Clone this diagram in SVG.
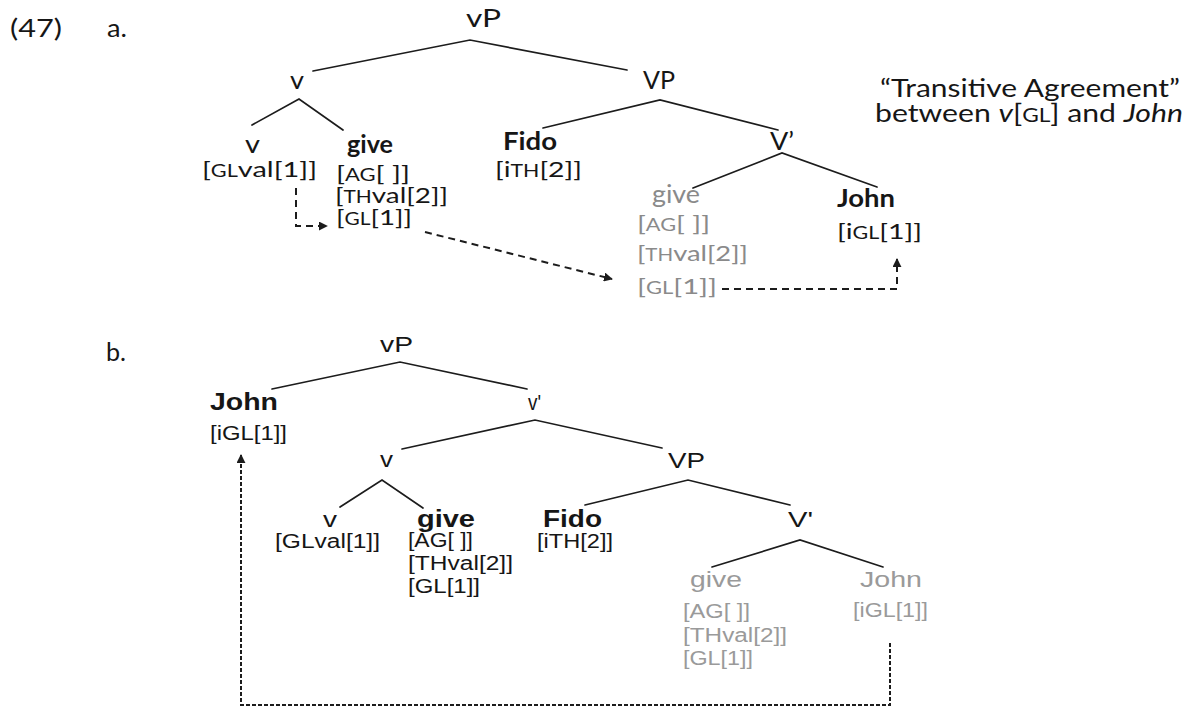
<svg xmlns="http://www.w3.org/2000/svg" width="1187" height="708" viewBox="0 0 1187 708">
  <style>
    .ca { font-family: "Lato", "Carlito", "Liberation Sans", sans-serif; fill: #161616; }
    .ar { font-family: "Liberation Sans", Arial, sans-serif; fill: #161616; }
    .lab { font-size: 25px; }
    .bold { font-weight: bold; }
    .feat { font-size: 22px; }
    .featb { font-size: 20px; }
    .gray { fill: #8a8a8a; }
    .grayb { fill: #9a9a9a; }
    .sc { font-size: 75%; }
    .branch { stroke: #1c1c1c; stroke-width: 1.7; fill: none; stroke-linecap: round; }
    .dash { stroke: #1c1c1c; stroke-width: 2; fill: none; stroke-dasharray: 7 5; }
    .dashb { stroke: #1c1c1c; stroke-width: 2; fill: none; stroke-dasharray: 4 2; }
  </style>
  <defs>
    <marker id="head" viewBox="0 0 10 10" refX="9" refY="5" markerWidth="9" markerHeight="9" markerUnits="userSpaceOnUse" orient="auto">
      <path d="M0,0 L10,5 L0,10 Z" fill="#1c1c1c"/>
    </marker>
  </defs>
  <rect width="1187" height="708" fill="#ffffff"/>

  <!-- example number and sub-labels -->
  <g id="labels">
    <text class="ca lab" x="10" y="37" textLength="52" lengthAdjust="spacingAndGlyphs">(47)</text>
    <text class="ca lab" x="107" y="37" textLength="20" lengthAdjust="spacingAndGlyphs">a.</text>
    <text class="ca lab" x="106" y="361" textLength="20" lengthAdjust="spacingAndGlyphs">b.</text>
  </g>

  <!-- tree (a) branches -->
  <g id="branches-a">
    <path class="branch" d="M313,71 L470,40 L627,70"/>
    <path class="branch" d="M252,125 L299,99 L343,130"/>
    <path class="branch" d="M543,128 L660,100 L778,130"/>
    <path class="branch" d="M693,188 L782,153 L877,187"/>
  </g>

  <!-- tree (a) nodes -->
  <g id="a-vP"><text class="ca lab" x="466" y="27" textLength="35" lengthAdjust="spacingAndGlyphs">vP</text></g>
  <g id="a-v1"><text class="ca lab" x="290" y="89" textLength="14" lengthAdjust="spacingAndGlyphs">v</text></g>
  <g id="a-VP"><text class="ca lab" x="643" y="89" textLength="32" lengthAdjust="spacingAndGlyphs">VP</text></g>
  <g id="a-v0">
    <text class="ca lab" x="245" y="153" textLength="15" lengthAdjust="spacingAndGlyphs">v</text>
    <text class="ca feat" x="202" y="177" textLength="115" lengthAdjust="spacingAndGlyphs">[<tspan class="sc">GL</tspan>val[1]]</text>
  </g>
  <g id="a-give">
    <text class="ca lab bold" x="347" y="153" textLength="46" lengthAdjust="spacingAndGlyphs">give</text>
    <text class="ca feat" x="336" y="181" textLength="74" lengthAdjust="spacingAndGlyphs">[<tspan class="sc">AG</tspan>[ ]]</text>
    <text class="ca feat" x="335" y="203" textLength="113" lengthAdjust="spacingAndGlyphs">[<tspan class="sc">TH</tspan>val[2]]</text>
    <text class="ca feat" x="336" y="225" textLength="76" lengthAdjust="spacingAndGlyphs">[<tspan class="sc">GL</tspan>[1]]</text>
  </g>
  <g id="a-Fido">
    <text class="ca lab bold" x="503" y="150" textLength="54" lengthAdjust="spacingAndGlyphs">Fido</text>
    <text class="ca feat" x="495" y="177" textLength="87" lengthAdjust="spacingAndGlyphs">[i<tspan class="sc">TH</tspan>[2]]</text>
  </g>
  <g id="a-Vbar"><text class="ca lab" x="770" y="150" textLength="24" lengthAdjust="spacingAndGlyphs">V’</text></g>
  <g id="a-give-low">
    <text class="ca lab gray" x="652" y="203" textLength="48" lengthAdjust="spacingAndGlyphs">give</text>
    <text class="ca feat gray" x="637" y="231" textLength="73" lengthAdjust="spacingAndGlyphs">[<tspan class="sc">AG</tspan>[ ]]</text>
    <text class="ca feat gray" x="637" y="261" textLength="111" lengthAdjust="spacingAndGlyphs">[<tspan class="sc">TH</tspan>val[2]]</text>
    <text class="ca feat gray" x="637" y="294" textLength="80" lengthAdjust="spacingAndGlyphs">[<tspan class="sc">GL</tspan>[1]]</text>
  </g>
  <g id="a-John">
    <text class="ca lab bold" x="837" y="207" textLength="58" lengthAdjust="spacingAndGlyphs">John</text>
    <text class="ca feat" x="837" y="239" textLength="85" lengthAdjust="spacingAndGlyphs">[i<tspan class="sc">GL</tspan>[1]]</text>
  </g>
  <g id="a-note">
    <text class="ca lab" x="880" y="97" textLength="300" lengthAdjust="spacingAndGlyphs">“Transitive Agreement”</text>
    <text class="ca lab" x="875" y="122" textLength="308" lengthAdjust="spacingAndGlyphs">between <tspan font-style="italic">v</tspan>[<tspan class="sc">GL</tspan>] and <tspan font-style="italic">John</tspan></text>
  </g>

  <!-- tree (b) branches -->
  <g id="branches-b">
    <path class="branch" d="M272,389 L400,362 L527,389"/>
    <path class="branch" d="M402,449 L535,420 L662,448"/>
    <path class="branch" d="M340,507 L382,480 L423,508"/>
    <path class="branch" d="M585,505 L688,480 L790,505"/>
    <path class="branch" d="M712,567 L800,540 L883,567"/>
  </g>

  <!-- tree (b) nodes -->
  <g id="b-vP"><text class="ar" font-size="22" x="380" y="352" textLength="33" lengthAdjust="spacingAndGlyphs">vP</text></g>
  <g id="b-John">
    <text class="ar bold" font-size="23" x="210" y="410" textLength="68" lengthAdjust="spacingAndGlyphs">John</text>
    <text class="ar featb" x="210" y="440" textLength="77" lengthAdjust="spacingAndGlyphs">[iGL[1]]</text>
  </g>
  <g id="b-vbar"><text class="ar" font-size="22" x="528" y="410" textLength="13" lengthAdjust="spacingAndGlyphs">v'</text></g>
  <g id="b-v1"><text class="ar" font-size="22" x="380" y="467" textLength="13" lengthAdjust="spacingAndGlyphs">v</text></g>
  <g id="b-VP"><text class="ar" font-size="22" x="668" y="468" textLength="37" lengthAdjust="spacingAndGlyphs">VP</text></g>
  <g id="b-Vbar"><text class="ar" font-size="22" x="788" y="527" textLength="25" lengthAdjust="spacingAndGlyphs">V'</text></g>
  <g id="b-v0">
    <text class="ar" font-size="22" x="323" y="527" textLength="14" lengthAdjust="spacingAndGlyphs">v</text>
    <text class="ar featb" x="275" y="548" textLength="105" lengthAdjust="spacingAndGlyphs">[GLval[1]]</text>
  </g>
  <g id="b-give">
    <text class="ar bold" font-size="24" x="417" y="527" textLength="58" lengthAdjust="spacingAndGlyphs">give</text>
    <text class="ar featb" x="408" y="547" textLength="65" lengthAdjust="spacingAndGlyphs">[AG[ ]]</text>
    <text class="ar featb" x="408" y="570" textLength="105" lengthAdjust="spacingAndGlyphs">[THval[2]]</text>
    <text class="ar featb" x="408" y="593" textLength="72" lengthAdjust="spacingAndGlyphs">[GL[1]]</text>
  </g>
  <g id="b-Fido">
    <text class="ar bold" font-size="23" x="543" y="527" textLength="59" lengthAdjust="spacingAndGlyphs">Fido</text>
    <text class="ar featb" x="537" y="548" textLength="76" lengthAdjust="spacingAndGlyphs">[iTH[2]]</text>
  </g>
  <g id="b-give-low">
    <text class="ar grayb" font-size="22" x="690" y="587" textLength="52" lengthAdjust="spacingAndGlyphs">give</text>
    <text class="ar featb grayb" x="683" y="618" textLength="67" lengthAdjust="spacingAndGlyphs">[AG[ ]]</text>
    <text class="ar featb grayb" x="683" y="642" textLength="104" lengthAdjust="spacingAndGlyphs">[THval[2]]</text>
    <text class="ar featb grayb" x="683" y="665" textLength="70" lengthAdjust="spacingAndGlyphs">[GL[1]]</text>
  </g>
  <g id="b-John-low">
    <text class="ar grayb" font-size="22" x="860" y="587" textLength="62" lengthAdjust="spacingAndGlyphs">John</text>
    <text class="ar featb grayb" x="853" y="617" textLength="75" lengthAdjust="spacingAndGlyphs">[iGL[1]]</text>
  </g>

  <!-- agreement / movement connectors -->
  <g id="connectors">
    <path class="dash" d="M296,188 V226 H327" marker-end="url(#head)"/>
    <path class="dash" d="M425,232 L612,279" marker-end="url(#head)"/>
    <path class="dash" d="M722,289 H897 V259" marker-end="url(#head)"/>
    <path class="dashb" d="M890,643 V705 H241 V455" marker-end="url(#head)"/>
  </g>
</svg>
